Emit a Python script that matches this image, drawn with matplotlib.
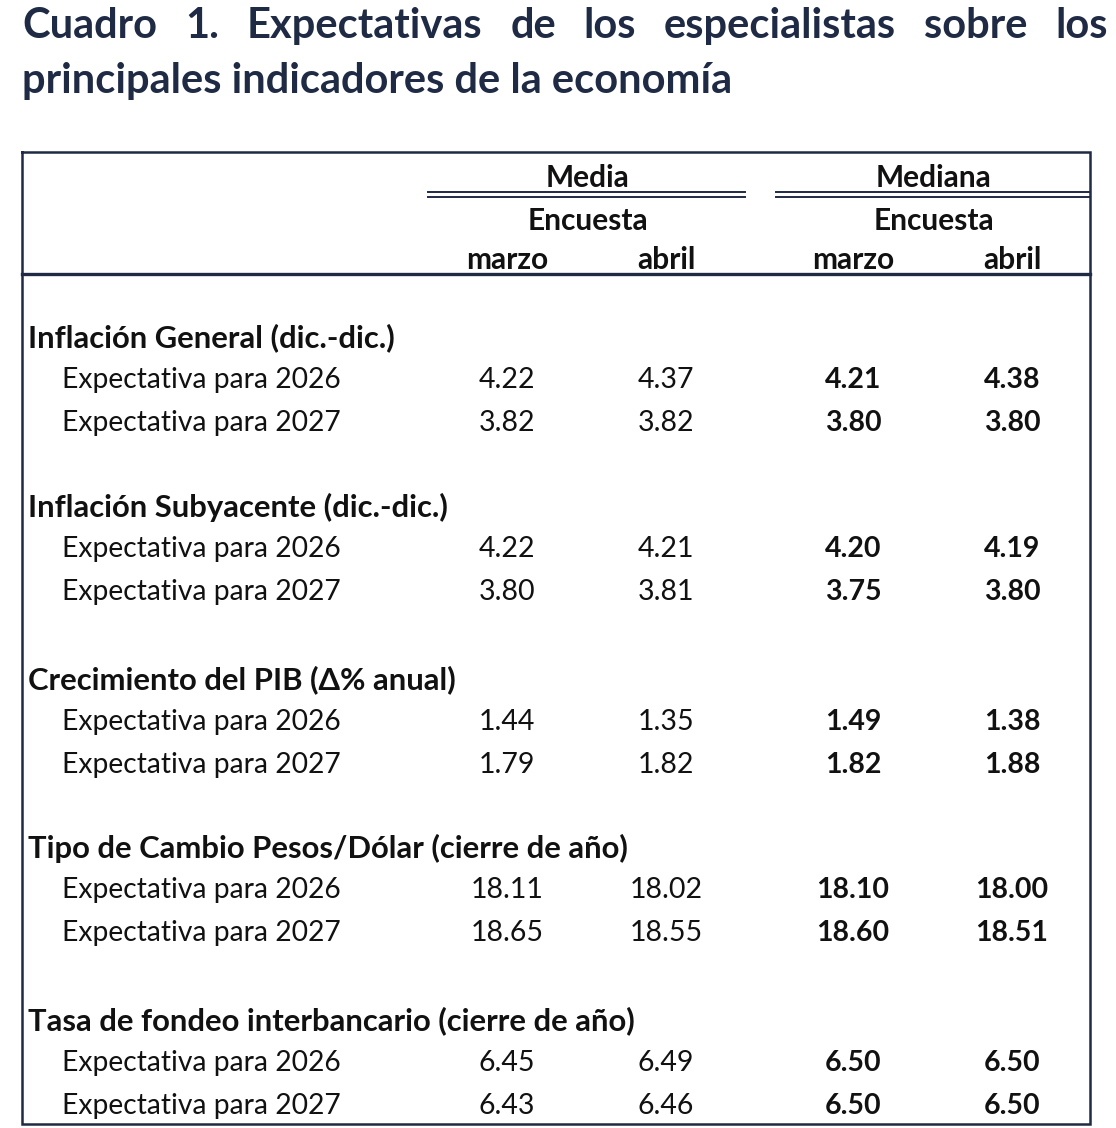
import matplotlib.pyplot as plt

plt.rcParams['font.family'] = ['Lato', 'DejaVu Sans']

title_line1 = ["Cuadro", "1.", "Expectativas", "de", "los", "especialistas", "sobre", "los"]
title_line2 = "principales indicadores de la economía"

groups = ["Media", "Mediana"]
survey = "Encuesta"
months = ["marzo", "abril", "marzo", "abril"]

sections = [
    "Inflación General (dic.-dic.)",
    "Inflación Subyacente (dic.-dic.)",
    "Crecimiento del PIB (Δ% anual)",
    "Tipo de Cambio Pesos/Dólar (cierre de año)",
    "Tasa de fondeo interbancario (cierre de año)",
]
row_labels = ["Expectativa para 2026", "Expectativa para 2027"]

media_marzo = [[4.22, 3.82], [4.22, 3.80], [1.44, 1.79], [18.11, 18.65], [6.45, 6.43]]
media_abril = [[4.37, 3.82], [4.21, 3.81], [1.35, 1.82], [18.02, 18.55], [6.49, 6.46]]
mediana_marzo = [[4.21, 3.80], [4.20, 3.75], [1.49, 1.82], [18.10, 18.60], [6.50, 6.50]]
mediana_abril = [[4.38, 3.80], [4.19, 3.80], [1.38, 1.88], [18.00, 18.51], [6.50, 6.50]]

navy = "#1f2a44"
W, H = 1116, 1128
fig = plt.figure(figsize=(W / 100, H / 100), dpi=100)
ax = fig.add_axes([0, 0, 1, 1])
ax.set_xlim(0, W)
ax.set_ylim(H, 0)
ax.axis("off")

# title, first line justified
fig.canvas.draw()
r = fig.canvas.get_renderer()
tsize = 30
words = []
for wd in title_line1:
    t = ax.text(0, 26, wd, fontsize=tsize, fontweight="bold", color=navy, va="center", ha="left")
    words.append(t)
widths = [t.get_window_extent(r).width for t in words]
x0, x1 = 22, 1108
gap = (x1 - x0 - sum(widths)) / (len(words) - 1)
x = x0
for t, w in zip(words, widths):
    t.set_x(x)
    x += w + gap
ax.text(x0, 81, title_line2, fontsize=tsize, fontweight="bold", color=navy, va="center", ha="left")

# frame
ax.plot([22, 1090, 1090, 22, 22], [152, 152, 1124, 1124, 152], color=navy, lw=1.8, solid_joinstyle="miter")
ax.plot([22, 1090], [274, 274], color=navy, lw=2.4)
for xa, xb in [(428, 745), (776, 1090)]:
    ax.plot([xa, xb], [192, 192], color=navy, lw=1.4)
    ax.plot([xa, xb], [197, 197], color=navy, lw=1.4)

fs_body = 20.3
fs_num = 20.5
fs_head = 21.5
fs_sec = 22.3
txt = "#111111"
dy = 2
col_x = [507, 666, 853, 1012]
for g, cx in zip(groups, [588, 934]):
    ax.text(cx, 176 + dy, g, fontsize=fs_head, fontweight="bold", ha="center", va="center", color=txt)
    ax.text(cx, 219 + dy, survey, fontsize=fs_head, fontweight="bold", ha="center", va="center", color=txt)
for m, cx in zip(months, col_x):
    ax.text(cx, 260, m, fontsize=fs_head, fontweight="bold", ha="center", va="center", color=txt)

sec_y = [336, 505, 678, 846, 1019]
row_gap = [42, 85]
for i, (name, sy) in enumerate(zip(sections, sec_y)):
    ax.text(28, sy + dy, name, fontsize=fs_sec, fontweight="bold", ha="left", va="center", color=txt)
    for j, lab in enumerate(row_labels):
        y = sy + row_gap[j] + dy
        ax.text(62, y, lab, fontsize=fs_body, ha="left", va="center", color=txt)
        vals = [media_marzo[i][j], media_abril[i][j], mediana_marzo[i][j], mediana_abril[i][j]]
        for k, (v, cx) in enumerate(zip(vals, col_x)):
            ax.text(cx, y, f"{v:.2f}", fontsize=fs_num, ha="center", va="center", color=txt,
                    fontweight="bold" if k >= 2 else "normal")

fig.savefig("out.png", dpi=100)
